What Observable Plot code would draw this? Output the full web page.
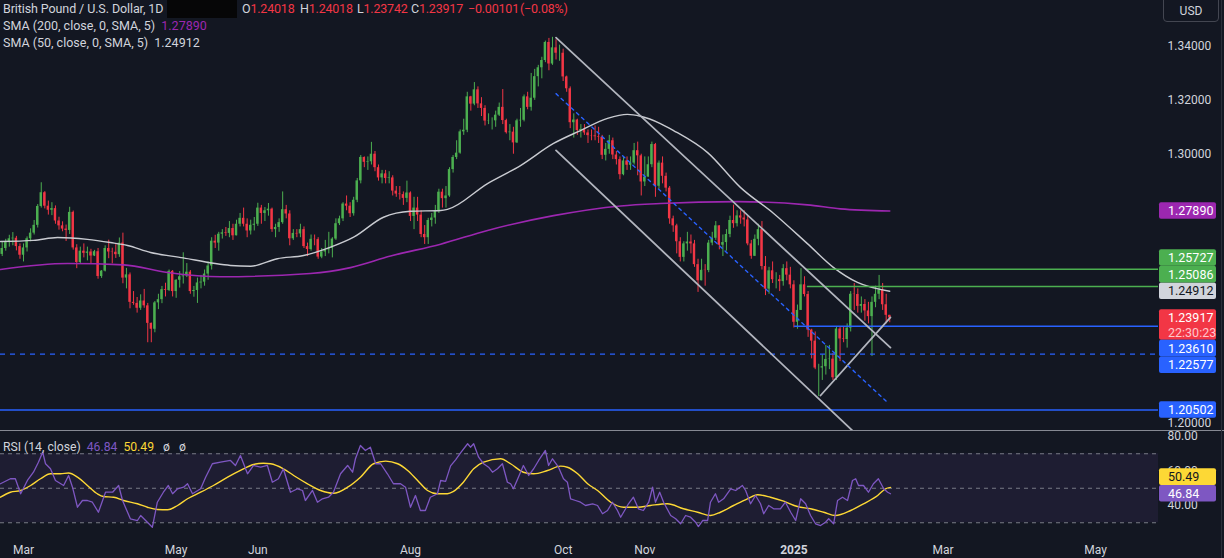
<!DOCTYPE html>
<html>
<head>
<meta charset="utf-8">
<script src="https://cdn.jsdelivr.net/npm/d3@7"></script>
<script src="https://cdn.jsdelivr.net/npm/@observablehq/plot@0.6"></script>
<style>
  html, body { margin: 0; padding: 0; background: #131722; }
  #chart { position: relative; width: 1224px; height: 558px; overflow: hidden; background: #131722; font-family: Roboto, "Noto Sans", sans-serif; }
  #chart svg { position: absolute; left: 0; display: block; }
  .lg { position: absolute; left: 3px; font-size: 12.5px; line-height: 16px; color: #d1d4dc; white-space: nowrap; }
  .red { color: #f23645; }
</style>
</head>
<body>
<div id="chart"></div>
<script>
// ---------------- DATA ----------------
const symbolName = "British Pound / U.S. Dollar, 1D";
const firstBarIndex = -6;          // first bar = 22 Feb 2024 (bar index, 0 = 1 Mar 2024)
const firstOpen = 1.2628;

const closes = [
 1.2650,1.2672,1.2686,1.2688,1.2657,1.2625,
 1.2652,1.2686,1.2707,1.2736,1.2806,1.2857,1.2807,1.2792,1.2798,1.2752,1.2734,1.2722,1.2717,1.2784,1.2652,1.2598,1.2640,1.2632,1.2637,1.2622,1.2638,
 1.2546,1.2566,1.2650,1.2637,1.2636,1.2627,1.2670,1.2540,1.2552,1.2450,1.2446,1.2428,1.2455,1.2437,1.2372,1.2350,1.2448,1.2460,1.2497,1.2494,1.2565,1.2490,
 1.2532,1.2545,1.2548,1.2562,1.2490,1.2494,1.2522,1.2525,1.2555,1.2585,1.2677,1.2670,1.2703,1.2708,1.2706,1.2724,1.2697,1.2740,1.2762,1.2740,1.2715,1.2736,1.2740,
 1.2800,1.2780,1.2790,1.2796,1.2720,1.2728,1.2746,1.2794,1.2778,1.2686,1.2706,1.2704,1.2720,1.2657,1.2646,1.2684,1.2683,1.2618,1.2637,1.2645,
 1.2650,1.2685,1.2742,1.2760,1.2815,1.2807,1.2779,1.2829,1.2901,1.2988,1.2970,1.2972,1.3000,1.2950,1.2912,1.2927,1.2910,1.2912,1.2863,1.2852,1.2850,1.2836,1.2856,
 1.2769,1.2800,1.2774,1.2702,1.2690,1.2754,1.2763,1.2788,1.2859,1.2835,1.2845,1.2943,1.2988,1.3004,1.3083,1.3089,1.3213,1.3186,1.3239,1.3187,1.3170,1.3123,
 1.3124,1.3124,1.3145,1.3174,1.3125,1.3080,1.3082,1.3042,1.3124,1.3126,1.3213,1.3174,1.3208,1.3288,1.3321,1.3348,1.3415,1.3335,1.3395,1.3375,1.3375,
 1.3287,1.3243,1.3117,1.3127,1.3088,1.3092,1.3079,1.3069,1.3068,1.3065,1.3063,1.2996,1.3018,1.3050,1.2997,1.2980,1.2924,1.2975,1.2959,1.2967,1.3013,1.2994,1.2897,
 1.2915,1.2961,1.3036,1.2881,1.2967,1.2918,1.2874,1.2760,1.2734,1.2675,1.2617,1.2667,1.2674,1.2667,1.2590,1.2530,1.2569,1.2568,1.2670,1.2688,1.2734,
 1.2662,1.2672,1.2702,1.2754,1.2742,1.2771,1.2763,1.2756,1.2667,1.2621,1.2684,1.2720,1.2583,1.2499,1.2567,1.2534,1.2534,1.2527,1.2575,1.2551,1.2515,
 1.2376,1.2420,1.2515,1.2479,1.2347,1.2306,1.2206,1.2206,1.2211,1.2238,1.2239,1.2170,1.2351,1.2314,1.2312,1.2354,1.2480,1.2479,1.2435,1.2442,1.2418,1.2397,
 1.2450,1.2480,1.2495,1.2441,1.24018,1.23917
];
const highs = [
 1.2673,1.2684,1.2699,1.2709,1.2695,1.2667,
 1.2667,1.2693,1.2723,1.2754,1.2813,1.2894,1.2861,1.2826,1.2820,1.2808,1.2766,1.2749,1.2737,1.2803,1.2789,1.2664,1.2655,1.2667,1.2655,1.2647,1.2643,
 1.2650,1.2568,1.2660,1.2681,1.2651,1.2664,1.2689,1.2707,1.2576,1.2559,1.2490,1.2468,1.2478,1.2498,1.2446,1.2373,1.2453,1.2480,1.2509,1.2521,1.2570,1.2568,
 1.2534,1.2564,1.2634,1.2594,1.2568,1.2509,1.2540,1.2550,1.2570,1.2600,1.2690,1.2699,1.2710,1.2720,1.2728,1.2750,1.2740,1.2755,1.2780,1.2800,1.2760,1.2755,1.2765,
 1.2818,1.2810,1.2802,1.2817,1.2800,1.2740,1.2760,1.2860,1.2810,1.2790,1.2720,1.2720,1.2740,1.2730,1.2670,1.2700,1.2700,1.2690,1.2650,1.2680,
 1.2710,1.2690,1.2760,1.2770,1.2820,1.2845,1.2820,1.2840,1.2910,1.2995,1.2990,1.2990,1.3044,1.3010,1.2960,1.2940,1.2940,1.2935,1.2920,1.2880,1.2880,1.2860,1.2900,
 1.2860,1.2840,1.2840,1.2790,1.2735,1.2762,1.2780,1.2810,1.2870,1.2870,1.2880,1.2950,1.2995,1.3050,1.3090,1.3130,1.3230,1.3215,1.3266,1.3250,1.3210,1.3180,
 1.3150,1.3135,1.3160,1.3190,1.3240,1.3130,1.3110,1.3100,1.3130,1.3170,1.3220,1.3230,1.3300,1.3315,1.3330,1.3360,1.3420,1.3430,1.3434,1.3425,1.3405,
 1.3390,1.3290,1.3250,1.3150,1.3130,1.3110,1.3110,1.3090,1.3090,1.3105,1.3100,1.3070,1.3040,1.3070,1.3060,1.3010,1.2990,1.2990,1.2990,1.2990,1.3040,1.3045,1.3000,
 1.2990,1.2990,1.3045,1.3040,1.2975,1.2990,1.2930,1.2880,1.2770,1.2740,1.2690,1.2675,1.2710,1.2700,1.2680,1.2610,1.2610,1.2590,1.2680,1.2710,1.2750,
 1.2720,1.2700,1.2720,1.2770,1.2811,1.2790,1.2790,1.2790,1.2770,1.2680,1.2700,1.2740,1.2750,1.2620,1.2580,1.2600,1.2560,1.2550,1.2590,1.2600,1.2580,
 1.2530,1.2440,1.2575,1.2545,1.2490,1.2350,1.2340,1.2220,1.2255,1.2290,1.2290,1.2260,1.2360,1.2360,1.2360,1.2370,1.2490,1.2520,1.2500,1.2470,1.2460,1.2450,
 1.2470,1.2510,1.2550,1.2520,1.2480,1.24018
];
const lows = [
 1.2620,1.2640,1.2655,1.2660,1.2641,1.2610,
 1.2600,1.2637,1.2675,1.2700,1.2726,1.2800,1.2797,1.2774,1.2772,1.2740,1.2718,1.2712,1.2676,1.2702,1.2644,1.2575,1.2592,1.2615,1.2604,1.2593,1.2620,
 1.2536,1.2539,1.2563,1.2612,1.2593,1.2613,1.2617,1.2519,1.2500,1.2426,1.2439,1.2410,1.2420,1.2428,1.2300,1.2300,1.2337,1.2423,1.2445,1.2470,1.2490,1.2470,
 1.2465,1.2503,1.2518,1.2542,1.2480,1.2469,1.2446,1.2500,1.2510,1.2532,1.2570,1.2650,1.2640,1.2685,1.2695,1.2690,1.2680,1.2700,1.2730,1.2730,1.2690,1.2700,1.2715,
 1.2732,1.2740,1.2750,1.2770,1.2710,1.2690,1.2710,1.2740,1.2760,1.2660,1.2680,1.2690,1.2690,1.2650,1.2620,1.2640,1.2660,1.2610,1.2612,1.2620,
 1.2630,1.2615,1.2680,1.2735,1.2750,1.2790,1.2765,1.2770,1.2820,1.2890,1.2950,1.2940,1.2960,1.2935,1.2900,1.2890,1.2890,1.2890,1.2845,1.2840,1.2830,1.2810,1.2820,
 1.2750,1.2720,1.2750,1.2690,1.2665,1.2665,1.2730,1.2740,1.2780,1.2800,1.2800,1.2840,1.2930,1.2980,1.3000,1.3070,1.3080,1.3160,1.3180,1.3170,1.3140,1.3105,
 1.3110,1.3090,1.3100,1.3140,1.3110,1.3075,1.3050,1.3000,1.3040,1.3100,1.3120,1.3165,1.3160,1.3200,1.3250,1.3280,1.3340,1.3310,1.3330,1.3350,1.3345,
 1.3270,1.3230,1.3095,1.3060,1.3070,1.3060,1.3070,1.3040,1.3050,1.3050,1.3040,1.2980,1.2975,1.3000,1.2980,1.2960,1.2905,1.2920,1.2940,1.2940,1.2960,1.2920,1.2845,
 1.2880,1.2920,1.2950,1.2840,1.2870,1.2890,1.2860,1.2740,1.2710,1.2630,1.2600,1.2600,1.2640,1.2630,1.2580,1.2487,1.2530,1.2510,1.2560,1.2660,1.2680,
 1.2645,1.2620,1.2640,1.2690,1.2725,1.2730,1.2740,1.2730,1.2660,1.2610,1.2620,1.2660,1.2570,1.2475,1.2480,1.2520,1.2500,1.2490,1.2510,1.2530,1.2500,
 1.2355,1.2350,1.2420,1.2470,1.2320,1.2240,1.2200,1.2100,1.2160,1.2180,1.2200,1.2160,1.2160,1.2230,1.2300,1.2280,1.2340,1.2420,1.2410,1.2410,1.2380,1.2370,
 1.2249,1.2430,1.2460,1.2420,1.2370,1.23742
];
const countdown = "22:30:23";

// moving averages: [bar index, value]
const sma200Points = [[-6.5,1.2572],[12.4,1.2594],[28.2,1.2589],[40.6,1.2561],[55.5,1.2545],[80.8,1.2557],[92.1,1.2579],[103.4,1.2622],[117.5,1.2666],[130.7,1.2717],[149.3,1.2772],[168.2,1.2808],[179.4,1.2817],[201.1,1.2824],[220.8,1.2812],[230.1,1.2797],[244,1.2789]];
const sma50Points = [[-6.5,1.2676],[2.8,1.2680],[9.6,1.2691],[18,1.2684],[24.5,1.2672],[29.3,1.2661],[35.8,1.2635],[45,1.2615],[53.5,1.2595],[58.3,1.2587],[64,1.2584],[71.5,1.2612],[78.9,1.2624],[86.5,1.2655],[93,1.2692],[101.4,1.2766],[109,1.2788],[117.5,1.2791],[119.4,1.2795],[130.7,1.2891],[140,1.2958],[149.3,1.3040],[156.9,1.3088],[164.5,1.3133],[170.1,1.3148],[173.8,1.3141],[179.4,1.3114],[183.1,1.3088],[192.7,1.3006],[202,1.2876],[211.3,1.2780],[220.8,1.2668],[228.2,1.2579],[234.9,1.2524],[244,1.24912]];

// horizontal levels and drawn trend lines: [bar index, price]
const levelPrices = [1.25727, 1.25086, 1.23610, 1.22577, 1.20502];
const levelStartBar = [220.4, 220.8, 217.2, null, null];
const channelUpper = [[150,1.3433],[244.2,1.2282]];
const channelLower = [[150,1.3014],[237,1.1930]];
const channelMiddle = [[150,1.3225],[243.4,1.2078]];
const risingLine = [[224.5,1.2104],[244.2,1.2394]];

// RSI (14) and its moving average: [bar index, value]
const rsiPoints = [[-6.5,52.6],[-3.7,55.5],[-2.3,55.5],[-0.8,46.8],[1.1,54.5],[2.8,59.3],[4.2,65.1],[5.4,70.9],[6.2,64.2],[7.6,61.3],[9.0,54.5],[11.3,51.6],[12.7,57.4],[13.8,50.6],[15.2,39.0],[16.6,42.9],[18.0,42.9],[19.4,41.9],[21.1,36.1],[23.1,47.7],[25.1,47.7],[26.8,51.6],[27.9,42.9],[28.7,39.0],[30.1,32.3],[32.1,31.3],[33.0,34.2],[34.9,30.3],[36.3,27.4],[37.7,41.9],[39.4,47.7],[40.8,51.6],[42.0,46.8],[43.4,49.7],[45.1,50.6],[46.2,52.6],[47.6,46.8],[49.9,49.7],[51.3,56.4],[53.2,64.2],[55.5,65.1],[58.3,66.1],[59.7,63.2],[61.1,69.0],[63.1,58.4],[64.8,63.2],[66.8,62.2],[68.7,63.2],[70.1,53.5],[71.8,55.5],[73.2,61.3],[75.2,47.7],[77.2,49.7],[78.6,48.7],[79.4,42.9],[81.4,48.7],[82.8,41.9],[84.2,43.9],[85.9,44.8],[87.3,47.7],[89.3,58.4],[91.3,63.2],[92.7,59.3],[93.5,67.1],[94.9,74.8],[96.3,71.9],[97.7,73.8],[99.2,64.2],[100.6,64.2],[102.5,58.4],[104.2,52.6],[106.2,52.6],[107.6,50.6],[109.0,39.0],[110.4,45.8],[111.8,37.1],[113.2,37.1],[114.6,44.8],[116.6,46.8],[117.5,54.5],[118.9,54.0],[120.3,63.0],[121.7,66.5],[123.1,70.5],[125.1,75.8],[125.9,73.8],[126.8,75.8],[128.2,68.0],[129.6,64.2],[131.0,62.2],[132.1,59.3],[133.5,61.3],[134.9,64.2],[136.3,53.5],[137.2,52.6],[138.0,49.7],[139.4,56.4],[140.8,63.2],[142.3,57.4],[143.7,61.3],[145.1,66.1],[147.0,71.9],[147.9,63.2],[149.0,67.1],[150.7,62.2],[152.1,55.5],[153.2,53.5],[154.1,43.9],[155.5,42.9],[156.9,41.9],[158.3,40.0],[160.3,41.0],[161.7,40.0],[163.1,35.2],[164.5,37.1],[165.9,41.9],[167.3,37.1],[168.2,33.2],[169.6,38.1],[170.4,41.0],[171.8,44.8],[173.2,38.1],[174.6,37.1],[176.1,41.9],[177.2,50.6],[178.0,41.9],[179.2,47.7],[180.3,41.9],[182.3,34.2],[183.7,32.3],[185.1,29.4],[186.5,34.2],[187.9,33.2],[189.3,30.3],[190.1,27.8],[191.3,31.3],[192.7,31.3],[193.5,41.9],[194.9,46.8],[195.8,41.9],[197.2,43.9],[199.2,49.7],[200.6,48.7],[202.5,51.6],[203.4,48.7],[204.8,41.0],[206.2,45.8],[207.6,41.0],[208.5,35.2],[209.9,40.0],[211.3,38.1],[213.2,38.1],[214.6,41.9],[216.1,36.1],[217.5,31.3],[218.9,43.9],[220.3,41.0],[221.7,34.2],[223.1,29.4],[224.5,28.4],[225.9,30.3],[226.8,32.3],[228.2,29.4],[229.3,42.9],[230.7,44.8],[232.1,42.9],[233.5,54.5],[234.4,55.5],[235.2,51.6],[236.6,51.6],[238.0,47.7],[239.4,52.6],[240.8,55.5],[242.3,49.7],[243.4,47.7],[244.2,46.84]];
const rsiMaPoints = [[-6.5,44.8],[-3.7,47.7],[-0.8,48.7],[2.0,51.6],[4.8,55.5],[7.6,58.4],[10.4,58.4],[12.7,58.8],[15.2,56.4],[18.0,51.6],[20.8,46.8],[22.5,45.2],[25.4,44.8],[28.2,42.9],[32.1,41.0],[34.9,39.0],[37.7,37.7],[40.6,37.5],[43.4,40.0],[46.2,43.9],[49.9,47.7],[53.5,51.6],[57.5,56.4],[61.1,60.3],[64.8,63.8],[67.6,64.5],[69.6,64.2],[73.2,61.3],[76.1,57.4],[80.0,52.6],[83.7,48.7],[87.3,47.1],[91.3,50.6],[94.9,56.4],[98.6,64.2],[102.0,65.7],[105.4,64.2],[108.2,60.3],[111.0,54.5],[113.8,48.7],[116.6,46.8],[119.4,46.8],[121.0,48.0],[123.9,53.5],[126.8,61.3],[129.6,65.1],[134.4,67.1],[137.2,64.2],[140.8,59.3],[143.7,58.4],[147.6,60.3],[151.3,62.8],[153.2,62.2],[156.1,58.4],[158.9,52.6],[161.7,48.7],[165.4,41.9],[169.0,39.0],[173.0,39.0],[176.6,40.0],[181.4,41.0],[185.9,38.1],[189.9,36.1],[193.5,34.2],[196.3,36.1],[200.0,40.0],[203.9,43.9],[206.8,46.2],[210.4,44.8],[214.1,42.5],[218.0,39.4],[221.7,38.1],[225.4,36.1],[228.7,34.2],[233.0,37.1],[236.6,41.0],[240.6,45.8],[242.8,49.7],[244.2,50.49]];
const rsiLevels = [70, 50, 30];
const rsiTicks = [80, 60, 40];

// axes
const priceTicks = [1.34, 1.32, 1.30, 1.20];
const timeTickBars = [0, 43, 66, 109, 152, 175, 217, 259, 302];
const timeTickLabels = ["Mar", "May", "Jun", "Aug", "Oct", "Nov", "2025", "Mar", "May"];

// ---------------- VIEW ----------------
const xView = [-6.48, 319.7];
const priceView = [1.19704, 1.35708];
const rsiView = [20.87, 82.9];
const UP = "#4caf50", DOWN = "#f23645", BLUE = "#2962ff", GREEN = "#4caf50";
const PURPLE = "#9c27b0", GREY = "#d1d4dc", RSI_C = "#7e57c2", MA_C = "#fdd835";
const FONT = 'Roboto, "Noto Sans", sans-serif';

if (closes.length !== highs.length || closes.length !== lows.length) {
  throw new Error("length mismatch " + closes.length + " " + highs.length + " " + lows.length);
}

const candles = closes.map((c, k) => {
  const o = k ? closes[k - 1] : firstOpen;
  return { i: firstBarIndex + k, open: o, close: c,
           high: Math.max(highs[k], o, c), low: Math.min(lows[k], o, c) };
});
const ups = candles.filter(d => d.close >= d.open);
const downs = candles.filter(d => d.close < d.open);
const levels = levelPrices.map((p, k) => ({ price: p, from: levelStartBar[k] == null ? xView[0] : levelStartBar[k], k }));
const levelStyle = [
  { stroke: GREEN, strokeWidth: 1.5 }, { stroke: GREEN, strokeWidth: 1.5 },
  { stroke: BLUE, strokeWidth: 1.5 }, { stroke: BLUE, strokeWidth: 1.2, strokeDasharray: "5,5" },
  { stroke: BLUE, strokeWidth: 1.5 }
];
const P = d => d[0], V = d => d[1];

const main = Plot.plot({
  width: 1224, height: 431,
  marginLeft: 0, marginRight: 66, marginTop: 0, marginBottom: 0,
  style: { background: "transparent", color: GREY, fontFamily: FONT, fontSize: "12px", overflow: "visible" },
  x: { type: "linear", domain: xView, axis: null },
  y: { type: "linear", domain: priceView },
  marks: [
    Plot.axisY(priceTicks, { anchor: "right", tickSize: 0, tickPadding: 9, tickFormat: d => d.toFixed(5), fill: GREY, fontSize: 12, label: null }),
    Plot.ruleX(ups, { x: "i", y1: "low", y2: "high", stroke: UP, strokeWidth: 1, clip: true }),
    Plot.ruleX(downs, { x: "i", y1: "low", y2: "high", stroke: DOWN, strokeWidth: 1, clip: true }),
    Plot.rect(ups, { x1: d => d.i - 0.34, x2: d => d.i + 0.34, y1: "open", y2: "close", fill: UP, clip: true }),
    Plot.rect(downs, { x1: d => d.i - 0.34, x2: d => d.i + 0.34, y1: "open", y2: "close", fill: DOWN, clip: true }),
    Plot.line(sma200Points, { x: P, y: V, stroke: PURPLE, strokeWidth: 1.6, curve: "monotone-x", clip: true }),
    Plot.line(sma50Points, { x: P, y: V, stroke: "#c9cbd1", strokeWidth: 1.4, curve: "monotone-x", clip: true }),
    ...levels.map(d => Plot.ruleY([d], { y: "price", x1: "from", x2: () => xView[1], ...levelStyle[d.k], clip: true })),
    Plot.line(channelUpper, { x: P, y: V, stroke: "#b2b5be", strokeWidth: 1.8, clip: true }),
    Plot.line(channelLower, { x: P, y: V, stroke: "#b2b5be", strokeWidth: 1.8, clip: true }),
    Plot.line(risingLine, { x: P, y: V, stroke: "#b2b5be", strokeWidth: 1.8, clip: true }),
    Plot.line(channelMiddle, { x: P, y: V, stroke: BLUE, strokeWidth: 1.4, strokeDasharray: "3,4", clip: true })
  ]
});

const rsi = Plot.plot({
  width: 1224, height: 127,
  marginLeft: 0, marginRight: 66, marginTop: 0, marginBottom: 20,
  style: { background: "transparent", color: GREY, fontFamily: FONT, fontSize: "12px", overflow: "visible" },
  x: { type: "linear", domain: xView },
  y: { type: "linear", domain: rsiView },
  marks: [
    Plot.rect([rsiLevels], { x1: () => xView[0], x2: () => xView[1], y1: d => d[2], y2: d => d[0], fill: RSI_C, fillOpacity: 0.1 }),
    Plot.ruleY(rsiLevels, { stroke: "#787b86", strokeWidth: 1, strokeDasharray: "4,4" }),
    Plot.line(rsiMaPoints, { x: P, y: V, stroke: MA_C, strokeWidth: 1.4, curve: "monotone-x", clip: true }),
    Plot.line(rsiPoints, { x: P, y: V, stroke: RSI_C, strokeWidth: 1.3, clip: true }),
    Plot.axisX(timeTickBars, { anchor: "bottom", tickSize: 0, tickPadding: 7, fontSize: 12, fill: GREY, label: null,
      tickFormat: d => timeTickLabels[timeTickBars.indexOf(d)] }),
    Plot.axisY(rsiTicks, { anchor: "right", tickSize: 0, tickPadding: 9, tickFormat: d => d.toFixed(2), fill: GREY, fontSize: 12, label: null })
  ]
});

const chart = document.getElementById("chart");
main.style.top = "0px";
rsi.style.top = "431px";
chart.appendChild(main);
chart.appendChild(rsi);

d3.select(rsi).selectAll("text").filter(function () { return this.textContent === "2025"; }).attr("font-weight", "bold");

// ---------- price labels on the right scale ----------
function placeLabels(svg, scaleY, items, anchorValue) {
  const anchorY = scaleY.apply(anchorValue);
  const placed = [];
  const boxes = items.map(d => {
    const y = scaleY.apply(d.v);
    const h = 16.6 + (d.lines.length - 1) * 14;
    return { ...d, y, h, top: y - 8.3 };
  });
  boxes.filter(b => b.fixed).forEach(b => placed.push(b));
  const overl = (t, h) => placed.find(p => p.top < t + h - 0.01 && p.top + p.h > t + 0.01);
  boxes.filter(b => !b.fixed && b.y < anchorY).sort((a, b) => b.y - a.y).forEach(b => {
    let o; while ((o = overl(b.top, b.h))) b.top = o.top - b.h; placed.push(b);
  });
  boxes.filter(b => !b.fixed && b.y >= anchorY).sort((a, b) => a.y - b.y).forEach(b => {
    let o; while ((o = overl(b.top, b.h))) b.top = o.top + o.h; placed.push(b);
  });
  const g = d3.select(svg).append("g").attr("font-family", FONT).attr("font-size", 12.5).attr("text-anchor", "start");
  placed.forEach(b => {
    g.append("rect").attr("x", 1159).attr("y", b.top).attr("width", 57).attr("height", b.h).attr("rx", 2).attr("fill", b.bg);
  });
  placed.forEach(b => {
    b.lines.forEach((t, j) => {
      g.append("text").attr("x", 1168).attr("y", b.top + 8.5 + j * 14.5).attr("dy", "0.36em")
        .attr("fill", j === 0 ? b.fg : "#ffc7cd").text(t);
    });
  });
}
const f5 = v => v.toFixed(5);
const lastClose = closes[closes.length - 1];
const sma200Last = sma200Points[sma200Points.length - 1][1];
const sma50Last = sma50Points[sma50Points.length - 1][1];
const levelColors = [GREEN, GREEN, BLUE, BLUE, BLUE];
placeLabels(main, main.scale("y"), [
  { v: sma200Last, lines: [f5(sma200Last)], bg: PURPLE, fg: "#fff", fixed: true },
  { v: sma50Last, lines: [f5(sma50Last)], bg: GREY, fg: "#131722", fixed: true },
  { v: lastClose, lines: [f5(lastClose), countdown], bg: DOWN, fg: "#fff", fixed: true },
  ...levelPrices.map((p, k) => ({ v: p, lines: [f5(p)], bg: levelColors[k], fg: "#fff", fixed: false }))
], lastClose);

const rsiLast = rsiPoints[rsiPoints.length - 1][1];
const maLast = rsiMaPoints[rsiMaPoints.length - 1][1];
placeLabels(rsi, rsi.scale("y"), [
  { v: rsiLast, lines: [rsiLast.toFixed(2)], bg: RSI_C, fg: "#fff", fixed: true },
  { v: maLast, lines: [maLast.toFixed(2)], bg: MA_C, fg: "#131722", fixed: false }
], rsiLast);

// ---------- legends / chrome ----------
const n = closes.length;
const o = closes[n - 2], h = highs[n - 1], l = lows[n - 1], c = closes[n - 1];
const ch = c - o, pct = ch / o * 100;
const sgn = v => (v < 0 ? "\u2212" : "+");
function add(html, css) { const d = document.createElement("div"); d.className = "lg"; d.innerHTML = html; Object.assign(d.style, css); chart.appendChild(d); return d; }
add(symbolName, { top: "1px", letterSpacing: "-0.1px" });
const redact = document.createElement("div");
Object.assign(redact.style, { position: "absolute", left: "167px", top: "0px", width: "70px", height: "18px", background: "#060607" });
chart.appendChild(redact);
const ohlcCss = { top: "1px", letterSpacing: "-0.2px" };
add(`O<span class="red">${o.toFixed(5)}</span>`, { ...ohlcCss, left: "242px" });
add(`H<span class="red">${h.toFixed(5)}</span>`, { ...ohlcCss, left: "300px" });
add(`L<span class="red">${l.toFixed(5)}</span>`, { ...ohlcCss, left: "357px" });
add(`C<span class="red">${c.toFixed(5)}</span>`, { ...ohlcCss, left: "411px" });
add(`<span class="red">${sgn(ch) + Math.abs(ch).toFixed(5)}</span>`, { ...ohlcCss, left: "468px" });
add(`<span class="red">(${sgn(pct) + Math.abs(pct).toFixed(2)}%)</span>`, { ...ohlcCss, left: "520px" });
add(`SMA (200, close, 0, SMA, 5)&nbsp;&nbsp;<span style="color:${PURPLE}">${f5(sma200Last)}</span>`, { top: "18px" });
add(`SMA (50, close, 0, SMA, 5)&nbsp;&nbsp;<span style="color:${GREY}">${f5(sma50Last)}</span>`, { top: "35px" });
add(`RSI (14, close)&nbsp;&nbsp;<span style="color:${RSI_C}">${rsiLast.toFixed(2)}</span>&nbsp;&nbsp;<span style="color:${MA_C}">${maLast.toFixed(2)}</span>&nbsp;&nbsp;&nbsp;ø&nbsp;&nbsp;&nbsp;ø`, { top: "439px", fontSize: "12.2px" });

const sep = document.createElement("div");
Object.assign(sep.style, { position: "absolute", left: "0px", top: "430px", width: "1224px", height: "1px", background: "#868993" });
chart.appendChild(sep);
const edge = document.createElement("div");
Object.assign(edge.style, { position: "absolute", left: "1221px", top: "0px", width: "1px", height: "558px", background: "#2a2e39" });
chart.appendChild(edge);
const usd = document.createElement("div");
Object.assign(usd.style, { position: "absolute", left: "1163px", top: "-5px", width: "56px", height: "27px", border: "1px solid #434651",
  borderRadius: "4px", color: GREY, fontSize: "12px", lineHeight: "30px", textAlign: "center", boxSizing: "border-box" });
usd.textContent = "USD";
chart.appendChild(usd);
</script>
</body>
</html>
